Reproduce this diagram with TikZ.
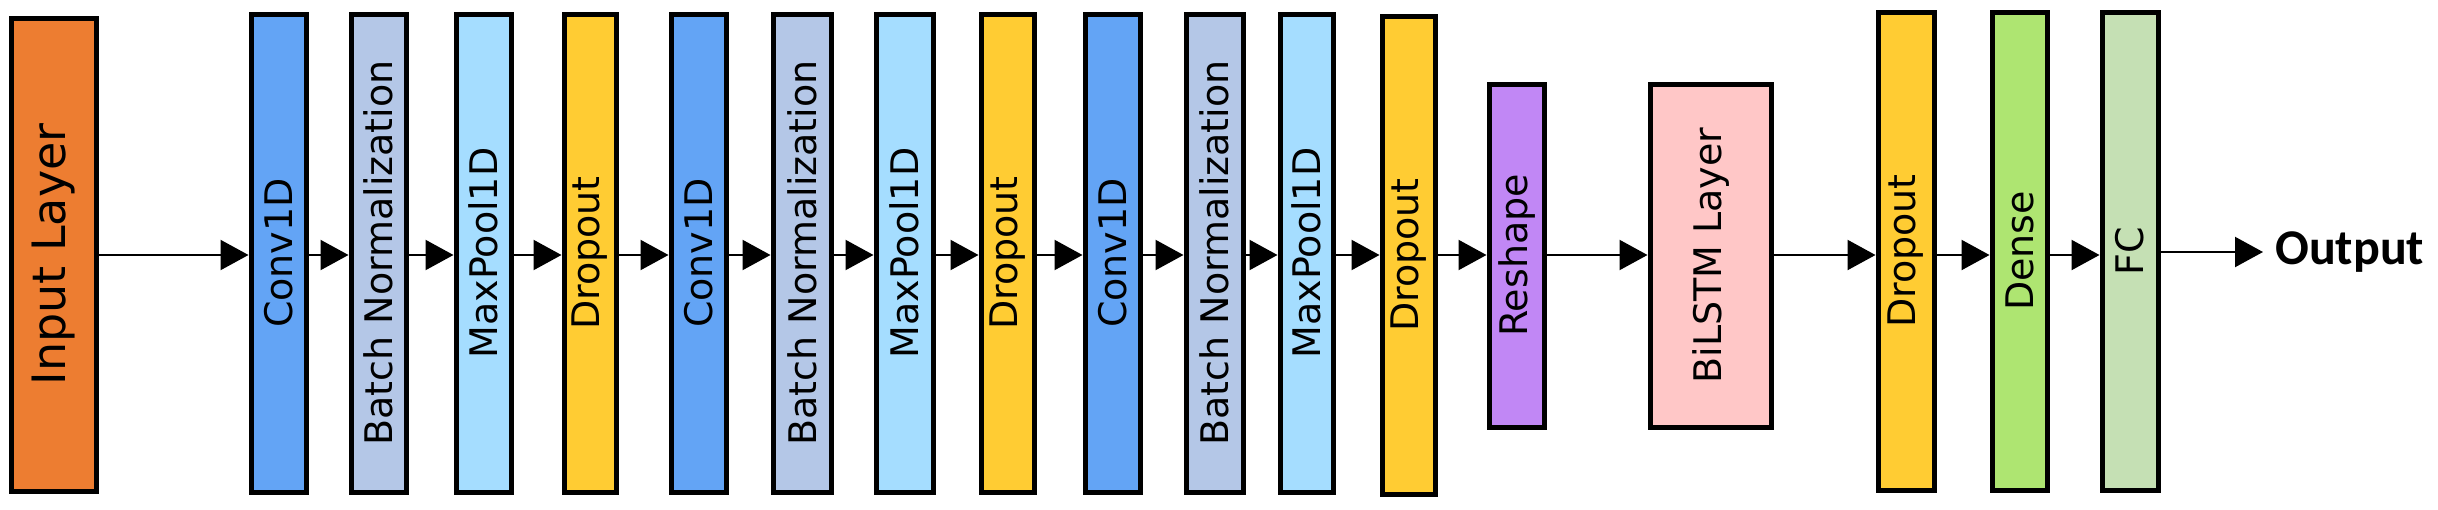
\documentclass[tikz,border=0pt]{standalone}
\usepackage{fontspec}
\setmainfont{DejaVu Sans}
\newfontfamily\outfont{Carlito}
\usetikzlibrary{arrows.meta}
\definecolor{cin}{HTML}{ED7D31}
\definecolor{cconv}{HTML}{63A4F5}
\definecolor{cbn}{HTML}{B4C7E7}
\definecolor{cmp}{HTML}{A5DDFF}
\definecolor{cdo}{HTML}{FFCC33}
\definecolor{crs}{HTML}{C187F5}
\definecolor{clstm}{HTML}{FFC7C7}
\definecolor{cdense}{HTML}{AEE571}
\definecolor{cfc}{HTML}{C5E0B4}
\begin{document}
\begin{tikzpicture}[x=1pt,y=-1pt,
  layer/.style={draw=black,line width=5pt,inner sep=0pt},
  conn/.style={line width=2.2pt,-{Triangle[length=28pt,width=30pt]}}]
\useasboundingbox (0,0) rectangle (2438,509);
\newcommand{\lay}[8]{% name, x1, x2, y1, y2, color, text, size
  \node[layer,fill=#6,minimum width={#3-#2},minimum height={#5-#4}] (#1) at ({(#2+#3)/2},{(#4+#5)/2}) {};
  \node[rotate=90,font=\fontsize{#8}{#8}\selectfont,inner sep=0pt] (#1t) at (#1.center) {#7};}
\lay{in}{11}{96}{18}{491}{cin}{Input Layer}{46}
\lay{c1}{251}{306}{14}{492}{cconv}{Conv1D}{38}
\lay{b1}{351}{406}{14}{492}{cbn}{Batch Normalization}{38}
\lay{m1}{456}{511}{14}{492}{cmp}{MaxPool1D}{38}
\lay{d1}{564}{616}{14}{492}{cdo}{Dropout}{38}
\lay{c2}{671}{726}{14}{492}{cconv}{Conv1D}{38}
\lay{b2}{773}{831}{14}{492}{cbn}{Batch Normalization}{38}
\lay{m2}{876}{933}{14}{492}{cmp}{MaxPool1D}{38}
\lay{d2}{981}{1034}{14}{492}{cdo}{Dropout}{38}
\lay{c3}{1085}{1140}{14}{492}{cconv}{Conv1D}{38}
\lay{b3}{1186}{1243}{14}{492}{cbn}{Batch Normalization}{38}
\lay{m3}{1280}{1333}{14}{492}{cmp}{MaxPool1D}{38}
\lay{d3}{1382}{1435}{16}{494}{cdo}{Dropout}{38}
\lay{rs}{1489}{1544}{84}{427}{crs}{Reshape}{38}
\lay{ls}{1650}{1771}{84}{427}{clstm}{BiLSTM Layer}{38}
\lay{d4}{1878}{1934}{12}{490}{cdo}{Dropout}{38}
\lay{de}{1992}{2047}{12}{490}{cdense}{Dense}{38}
\lay{fc}{2102}{2158}{12}{490}{cfc}{FC}{38}
\node[font=\outfont\bfseries\fontsize{50}{50}\selectfont,anchor=west,inner sep=0pt] (out) at (2275,252) {Output};
\foreach \a/\b in {in/c1,c1/b1,b1/m1,m1/d1,d1/c2,c2/b2,b2/m2,m2/d2,d2/c3,c3/b3,b3/m3,m3/d3,d3/rs,rs/ls,ls/d4,d4/de,de/fc}
  \draw[conn] (\a.east |- 0,255) -- (\b.west |- 0,255);
\draw[conn] (fc.east |- 0,252) -- ([xshift=-12pt]out.west);
\end{tikzpicture}
\end{document}
